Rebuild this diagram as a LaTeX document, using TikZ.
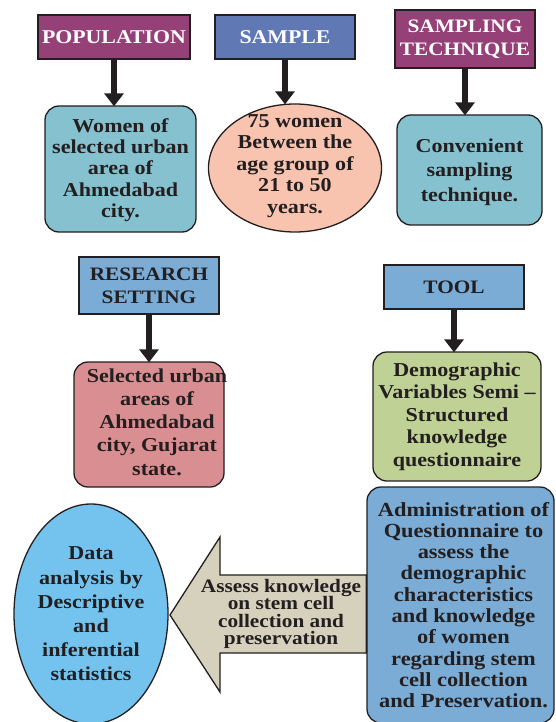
\documentclass[tikz,border=0pt]{standalone}
\usepackage{fontspec}
\setmainfont{Liberation Serif}[FakeStretch=1.12]
\usetikzlibrary{arrows.meta,shapes.geometric}
\definecolor{cpurple}{RGB}{150,64,120}
\definecolor{cblue}{RGB}{96,121,181}
\definecolor{cteal}{RGB}{134,193,207}
\definecolor{csalmon}{RGB}{248,196,176}
\definecolor{clblue}{RGB}{122,172,214}
\definecolor{cpink}{RGB}{217,143,145}
\definecolor{cgreen}{RGB}{191,209,148}
\definecolor{csky}{RGB}{116,195,238}
\definecolor{cbeige}{RGB}{214,209,189}
\definecolor{cline}{RGB}{35,31,32}
\tikzset{
  head/.style={draw=cline, line width=1.3pt, inner sep=0pt, align=center, font=\bfseries\fontsize{19}{23}\selectfont},
  info/.style={draw=cline, line width=1.3pt, rounded corners=14pt, inner sep=0pt},
  oval/.style={draw=cline, line width=1.3pt, ellipse, inner sep=0pt},
  txt/.style={inner sep=0pt, align=center, text=cline, font=\bfseries\fontsize{19.7}{24}\selectfont},
  down/.style={draw=cline, line width=5.5pt, -{Triangle[length=13pt,width=19pt]}, shorten >=-1pt}
}
\begin{document}
\begin{tikzpicture}[x=1pt,y=-1pt]
\useasboundingbox (0,0) rectangle (556,722);
% headers
\node[head, fill=cpurple, text=white, minimum width=152pt, minimum height=44pt, font=\bfseries\fontsize{19.5}{23}\selectfont] (pop) at (114,37) {POPULATION};
\node[head, fill=cblue, text=white, minimum width=140pt, minimum height=44pt, font=\bfseries\fontsize{19.5}{23}\selectfont] (samp) at (285,37) {SAMPLE};
\node[head, fill=cpurple, text=white, minimum width=140pt, minimum height=58pt] (tech) at (465,39) {SAMPLING\\TECHNIQUE};
\node[head, fill=clblue, text=cline, minimum width=140pt, minimum height=57pt] (rs) at (149,285.5) {RESEARCH\\SETTING};
\node[head, fill=clblue, text=cline, minimum width=140pt, minimum height=44pt] (tool) at (454,287) {TOOL};
% info shapes
\node[info, fill=cteal, minimum width=151pt, minimum height=126pt] (women) at (120.5,169) {};
\node[oval, fill=csalmon, minimum width=173pt, minimum height=128pt] (age) at (295,168) {};
\node[info, fill=cteal, minimum width=145pt, minimum height=110pt] (conv) at (469.5,170) {};
\node[info, fill=cpink, minimum width=150pt, minimum height=125pt] (sel) at (149,424.5) {};
\node[info, fill=cgreen, minimum width=168pt, minimum height=129pt] (demo) at (457,416.5) {};
\node[info, fill=clblue, minimum width=187pt, minimum height=236pt] (admin) at (460.5,605) {};
\node[oval, fill=csky, minimum width=154pt, minimum height=220pt] (data) at (91,614) {};
% texts
\node[txt, font=\bfseries\fontsize{19.7}{21.3}\selectfont] (womentxt) at ([yshift=-1pt]women.center) {Women of\\selected urban\\area of\\Ahmedabad\\city.};
\node[txt, font=\bfseries\fontsize{19.7}{21.5}\selectfont] (agetxt) at ([yshift=2pt]age.center) {75 women\\Between the\\age group of\\21 to 50\\years.};
\node[txt, font=\bfseries\fontsize{19.7}{24.5}\selectfont] (convtxt) at ([yshift=-2pt]conv.center) {Convenient\\sampling\\technique.};
\node[txt, font=\bfseries\fontsize{19.7}{23.3}\selectfont] (seltxt) at ([xshift=8pt,yshift=2.5pt]sel.center) {Selected urban\\areas of\\Ahmedabad\\city, Gujarat\\state.};
\node[txt, font=\bfseries\fontsize{19.7}{22.5}\selectfont] (demotxt) at (demo) {Demographic\\Variables Semi –\\Structured\\knowledge\\questionnaire};
\node[txt, font=\bfseries\fontsize{20}{21.3}\selectfont] (admintxt) at ([xshift=3pt]admin.center) {Administration of\\Questionnaire to\\assess the\\demographic\\characteristics\\and knowledge\\of women\\regarding stem\\cell collection\\and Preservation.};
\node[txt, font=\bfseries\fontsize{19.7}{24.2}\selectfont] (datatxt) at (data) {Data\\analysis by\\Descriptive\\and\\inferential\\statistics};
% big arrow
\coordinate (tip) at (170,615);
\filldraw[fill=cbeige, draw=cline, line width=1.3pt] (tip) -- (220,537) -- (220,575) -- (admin.west |- 0,575) -- (admin.west |- 0,653) -- (220,653) -- (220,692) -- cycle;
\node[txt, font=\bfseries\fontsize{19}{17.6}\selectfont] (assess) at (281,614) {Assess knowledge\\on stem cell\\collection and\\preservation};
% arrows
\draw[down] (pop.south) -- (pop.south |- women.north);
\draw[down] (samp.south) -- (samp.south |- age.north);
\draw[down] (tech.south) -- (tech.south |- conv.north);
\draw[down] (rs.south) -- (rs.south |- sel.north);
\draw[down] (tool.south) -- (tool.south |- demo.north);
\end{tikzpicture}
\end{document}
